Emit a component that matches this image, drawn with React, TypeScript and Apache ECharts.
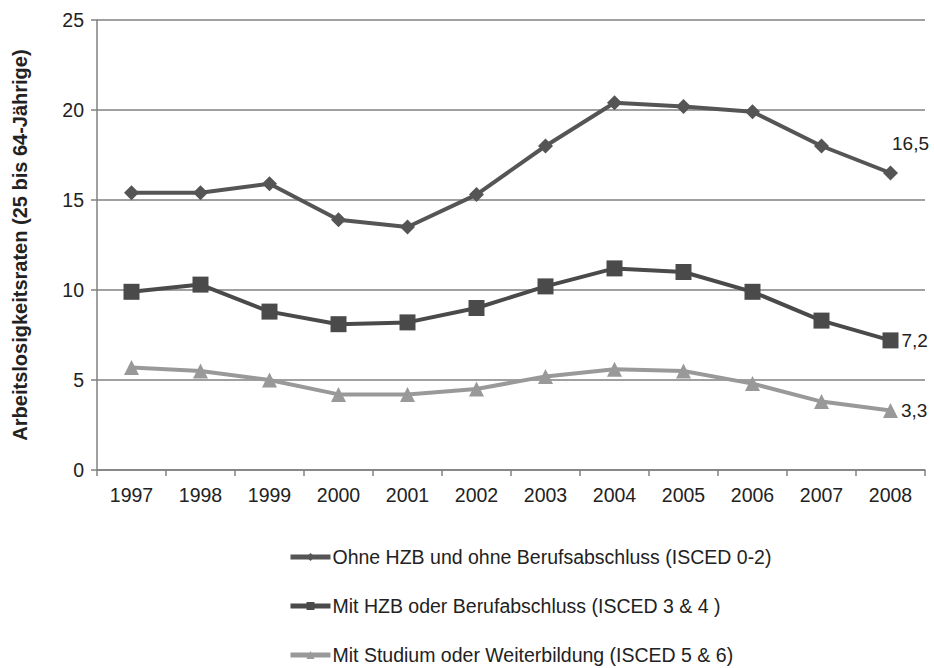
import React, { useEffect, useRef } from "react";
import * as echarts from "echarts";

const years = ["1997", "1998", "1999", "2000", "2001", "2002", "2003", "2004", "2005", "2006", "2007", "2008"];
const ohneHZB = [15.4, 15.4, 15.9, 13.9, 13.5, 15.3, 18.0, 20.4, 20.2, 19.9, 18.0, 16.5];
const mitHZB = [9.9, 10.3, 8.8, 8.1, 8.2, 9.0, 10.2, 11.2, 11.0, 9.9, 8.3, 7.2];
const mitStudium = [5.7, 5.5, 5.0, 4.2, 4.2, 4.5, 5.2, 5.6, 5.5, 4.8, 3.8, 3.3];
const seriesNames = [
  "Ohne HZB und ohne Berufsabschluss (ISCED 0-2)",
  "Mit HZB oder Berufabschluss (ISCED 3 & 4 )",
  "Mit Studium oder Weiterbildung (ISCED 5 & 6)",
];
const yAxisTitle = "Arbeitslosigkeitsraten (25 bis 64-Jährige)";

const fmt = (v: number) => v.toFixed(1).replace(".", ",");

function withLastLabel(values: number[], label: any) {
  return values.map((v, i) =>
    i === values.length - 1
      ? { value: v, label: { show: true, formatter: () => fmt(v), ...label } }
      : v
  );
}

export default function App() {
  const ref = useRef<HTMLDivElement>(null);
  useEffect(() => {
    if (!ref.current) return;
    const chart = echarts.init(ref.current, null, { renderer: "svg" });
    const font = "'Liberation Sans', Arial, sans-serif";
    const labelStyle = { color: "#222", fontSize: 19, fontFamily: font };
    chart.setOption({
      animation: false,
      textStyle: { fontFamily: font },
      grid: { left: 97, right: 9, top: 20, bottom: 198, containLabel: false },
      legend: {
        orient: "vertical",
        left: 283,
        top: 542,
        width: 600,
        height: 126,
        itemGap: 29,
        itemWidth: 40,
        itemHeight: 10,
        lineStyle: { width: 5 },
        textStyle: { fontSize: 19.5, color: "#222", fontFamily: font, padding: [0, 0, 0, -3] },
        data: seriesNames,
      },
      xAxis: {
        type: "category",
        data: years,
        boundaryGap: true,
        axisLine: { lineStyle: { color: "#808080", width: 1.5 } },
        axisTick: { show: true, length: 6, lineStyle: { color: "#808080", width: 1.5 } },
        axisLabel: { color: "#222", fontSize: 19.5, margin: 15, fontFamily: font },
      },
      yAxis: {
        type: "value",
        min: 0,
        max: 25,
        interval: 5,
        name: yAxisTitle,
        nameLocation: "middle",
        nameGap: 67,
        nameTextStyle: { fontSize: 20, fontWeight: "bold", color: "#222", fontFamily: font },
        axisLine: { show: true, lineStyle: { color: "#808080", width: 1.5 } },
        axisTick: { show: true, length: 6, lineStyle: { color: "#808080", width: 1.5 } },
        axisLabel: { color: "#222", fontSize: 19.5, margin: 13, fontFamily: font },
        splitLine: { show: true, lineStyle: { color: "#808080", width: 1.5 } },
      },
      series: [
        {
          name: seriesNames[0],
          type: "line",
          data: withLastLabel(ohneHZB, { position: "top", offset: [20, -8], ...labelStyle }),
          symbol: "diamond",
          symbolSize: 15,
          itemStyle: { color: "#555555" },
          lineStyle: { color: "#555555", width: 4 },
        },
        {
          name: seriesNames[1],
          type: "line",
          data: withLastLabel(mitHZB, { position: "right", distance: 3, ...labelStyle }),
          symbol: "rect",
          symbolSize: 16,
          itemStyle: { color: "#4a4a4a" },
          lineStyle: { color: "#4a4a4a", width: 4 },
        },
        {
          name: seriesNames[2],
          type: "line",
          data: withLastLabel(mitStudium, { position: "right", distance: 3, ...labelStyle }),
          symbol: "triangle",
          symbolSize: 15,
          itemStyle: { color: "#999999" },
          lineStyle: { color: "#999999", width: 4 },
        },
      ],
    });
    return () => chart.dispose();
  }, []);
  return <div ref={ref} style={{ width: 934, height: 668, position: "absolute", left: 0, top: 0, background: "#fff" }} />;
}
